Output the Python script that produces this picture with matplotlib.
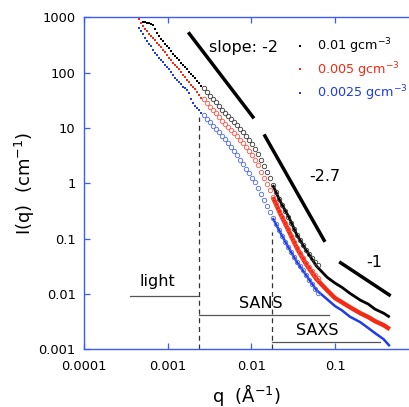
import numpy as np
import matplotlib
matplotlib.use("Agg")
import matplotlib.pyplot as plt
from matplotlib.ticker import FixedLocator, FixedFormatter, NullLocator

plt.rcParams['font.family'] = ['DejaVu Sans']

# ---------------- data ----------------
series_labels = ["0.01 gcm$^{-3}$", "0.005 gcm$^{-3}$", "0.0025 gcm$^{-3}$"]

# light scattering (small dots)
q_light = [4.54e-4, 4.80e-4, 5.07e-4, 5.36e-4, 5.66e-4, 5.98e-4, 6.32e-4, 6.67e-4,
           7.05e-4, 7.45e-4, 7.87e-4, 8.32e-4, 8.79e-4, 9.29e-4, 9.81e-4, 1.036e-3,
           1.095e-3, 1.157e-3, 1.222e-3, 1.291e-3, 1.364e-3, 1.441e-3, 1.523e-3, 1.609e-3,
           1.700e-3, 1.796e-3, 1.898e-3, 2.006e-3, 2.119e-3, 2.239e-3, 2.366e-3, 2.500e-3]
I_light_black = [np.nan, np.nan, 839, 822, 805, 789, 757, 726, 614, 520, 459, 405, 373, 329, 303, 279,
                 246, 217, 200, 184, 169, 149, 137, 126, 116, 103, 94.3, 86.8, 79.9, 70.5, 64.9, 57.2]
I_light_red = [932, 789, 696, 614, 565, 499, 459, 423, 389, 343, 316, 290, 256, 236, 208, 184,
               169, 149, 137, 126, 116, 103, 90.5, 83.3, 73.5, 67.6, 59.7, 54.9, 50.5, 44.6, 39.3, 34.7]
I_light_blue = [641, 565, 499, 423, 373, 329, 303, 256, 226, 208, 184, 169, 156, 137, 126, 116,
                103, 90.5, 79.9, 73.5, 67.6, 62.2, 54.9, 52.7, 48.5, 42.8, 33.3, 28.2, 24.9, 22.9, 21.1, 18.6]

# SANS (open circles)
q_sans = [0.00272, 0.00295, 0.00320, 0.00348, 0.00378, 0.00410, 0.00446, 0.00484, 0.00526,
          0.00571, 0.00620, 0.00673, 0.00731, 0.00794, 0.00862, 0.00936, 0.01017, 0.01104,
          0.01199, 0.01302, 0.01414, 0.01536, 0.01668, 0.01811, 0.01967, 0.02136, 0.02320,
          0.02519, 0.02736, 0.02971, 0.03227, 0.03504, 0.03806, 0.04133, 0.04489, 0.04875,
          0.05294, 0.05749, 0.06244]
I_sans_black = [52.7, 44.6, 37.7, 33.3, 29.4, 24.9, 21.1, 18.6, 16.4, 14.5, 12.8, 11.3, 9.55,
                8.43, 7.14, 6.04, 5.12, 4.15, 3.37, 2.63, 2.05, 1.59, 1.24, 0.928, 0.693, 0.518,
                0.403, 0.314, 0.245, 0.191, 0.149, 0.116, 0.0939, 0.0763, 0.0619, 0.0524, 0.0444,
                0.0376, 0.0332]
I_sans_red = [33.3, 28.2, 23.9, 21.1, 18.6, 15.7, 13.3, 11.8, 10.4, 9.16, 8.09, 7.14, 6.04, 5.33,
              4.51, 3.82, 3.24, 2.63, 2.13, 1.59, 1.24, 0.967, 0.754, 0.563, 0.421, 0.314, 0.245,
              0.191, 0.149, 0.111, 0.0864, 0.0673, 0.0547, 0.0444, 0.0361, 0.0305, 0.0258,
              0.0219, 0.0193]
I_sans_blue = [17.1, 14.5, 12.8, 10.8, 9.55, 8.43, 7.14, 6.30, 5.33, 4.51, 3.82, 3.24, 2.63, 2.22,
               1.81, 1.53, 1.24, 1.05, 0.819, 0.638, 0.497, 0.387, 0.301, 0.235, 0.183, 0.142,
               0.111, 0.0864, 0.0702, 0.0570, 0.0463, 0.0376, 0.0318, 0.0269, 0.0219, 0.0178,
               0.0150, 0.0122, 0.0103]

# SAXS (lines)
q_saxs = [0.018, 0.022, 0.028, 0.035, 0.045, 0.06, 0.08, 0.1, 0.12, 0.15, 0.2, 0.25, 0.3, 0.38, 0.45]
I_saxs_black = [0.928, 0.477, 0.245, 0.116, 0.0619, 0.0318, 0.0201, 0.01568, 0.01327, 0.0103,
                0.00773, 0.00654, 0.00531, 0.00449, 0.00381]
I_saxs_red = [0.563, 0.289, 0.1367, 0.0673, 0.0346, 0.01852, 0.01172, 0.00840, 0.00711, 0.00577,
              0.00449, 0.00381, 0.00322, 0.00273, 0.00231]
I_saxs_blue = [0.235, 0.1311, 0.0673, 0.0376, 0.0219, 0.01172, 0.00805, 0.00602, 0.00509, 0.00389,
               0.00309, 0.00241, 0.00196, 0.00152, 0.00114]

# power-law guide lines
slope_labels = ["slope: -2", "-2.7", "-1"]
slope_q = [[0.00176, 0.01074], [0.01416, 0.0757], [0.112, 0.461]]
slope_I = [[536, 14.9], [7.65, 0.0875], [0.0381, 0.00925]]
slope_label_q = [0.00794, 0.0757, 0.2916]
slope_label_I = [282, 1.31, 0.0365]

# q-ranges of the techniques
range_labels = ["light", "SANS", "SAXS"]
range_q = [[0.000355, 0.00239], [0.00239, 0.0845], [0.0178, 0.344]]
range_I = [0.0091, 0.0041, 0.00133]
range_label_q = [0.00076, 0.01313, 0.0613]
range_label_I = [0.0168, 0.00673, 0.00215]
boundary_q = [0.00239, 0.0178]
boundary_top_I = [16.0, 0.13]

x_ticks = [1e-4, 1e-3, 1e-2, 1e-1]
x_ticklabels = ["0.0001", "0.001", "0.01", "0.1"]
y_ticks = [1e-3, 1e-2, 1e-1, 1, 10, 100, 1000]
y_ticklabels = ["0.001", "0.01", "0.1", "1", "10", "100", "1000"]

# ---------------- styling ----------------
line_colors = ["black", "#f52a12", "#1f3ce8"]
circle_colors = ["#3a3a3a", "#ff5544", "#4f6ae8"]
line_widths = [2.0, 3.2, 1.8]
spine_color = "#3d5cf5"

fig = plt.figure(figsize=(4.09, 4.07), dpi=100)
ax = fig.add_axes([84/409, (407-349.3)/407, 325/409, 332/407])
ax.set_xscale('log')
ax.set_yscale('log')
ax.set_xlim(1e-4, 0.7637)
ax.set_ylim(1e-3, 1e3)

I_light = [I_light_black, I_light_red, I_light_blue]
I_sans = [I_sans_black, I_sans_red, I_sans_blue]
I_saxs = [I_saxs_black, I_saxs_red, I_saxs_blue]

handles = []
for k in range(3):
    ax.plot(q_saxs, I_saxs[k], color=line_colors[k], lw=line_widths[k], zorder=2,
            solid_capstyle='butt', solid_joinstyle='round')
for k in range(3):
    ax.plot(q_sans, I_sans[k], ls='none', marker='o', ms=3.2, mfc='none',
            mec=circle_colors[k], mew=0.6, zorder=3)
    h, = ax.plot(q_light, I_light[k], ls='none', marker='s', ms=1.7, mew=0,
                 color=line_colors[k], zorder=3)
    handles.append(h)

for qs, Is, lab, lq, lI in zip(slope_q, slope_I, slope_labels, slope_label_q, slope_label_I):
    ax.plot(qs, Is, color='black', lw=2.5, solid_capstyle='butt', zorder=4)
    ax.text(lq, lI, lab, fontsize=11.5, ha='center', va='center')

for qs, I0, lab, lq, lI in zip(range_q, range_I, range_labels, range_label_q, range_label_I):
    ax.plot(qs, [I0, I0], color='#555555', lw=0.9, zorder=1)
    ax.text(lq, lI, lab, fontsize=11.5, ha='center', va='center')

for bq, top in zip(boundary_q, boundary_top_I):
    ax.plot([bq, bq], [1e-3, top], color='#333333', lw=0.9, dashes=(4, 3), zorder=1)

leg = ax.legend(handles, series_labels, loc='upper left', bbox_to_anchor=(0.625, 0.968),
                frameon=False, fontsize=9.2, handlelength=0.6, handletextpad=1.05,
                labelspacing=0.28, markerscale=1.0, labelcolor=line_colors, borderpad=0.2)

ax.xaxis.set_major_locator(FixedLocator(x_ticks))
ax.xaxis.set_major_formatter(FixedFormatter(x_ticklabels))
ax.yaxis.set_major_locator(FixedLocator(y_ticks))
ax.yaxis.set_major_formatter(FixedFormatter(y_ticklabels))
ax.xaxis.set_minor_locator(NullLocator())
ax.yaxis.set_minor_locator(NullLocator())

ax.spines['right'].set_visible(False)
for s in ['left', 'bottom', 'top']:
    ax.spines[s].set_color(spine_color)
    ax.spines[s].set_linewidth(1.0)
ax.tick_params(which='both', direction='in', length=4.3, width=0.9, color=spine_color,
               top=True, right=False, labelsize=9.4, pad=6)
ax.tick_params(axis='x', pad=8)

ax.set_xlabel("q  (Å$^{-1}$)", fontsize=13, labelpad=6)
ax.set_ylabel("I(q)  (cm$^{-1}$)", fontsize=13)
ax.yaxis.set_label_coords(-0.145, 0.5)

fig.savefig("out.png", dpi=100)
